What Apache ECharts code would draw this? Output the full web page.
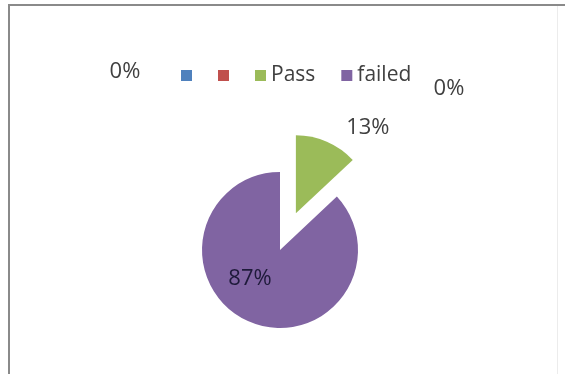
<!DOCTYPE html>
<html>
<head>
<meta charset="utf-8">
<script src="https://cdn.jsdelivr.net/npm/echarts@6/dist/echarts.min.js"></script>
<style>
  html, body { margin: 0; padding: 0; background: #ffffff; }
  #chart { width: 565px; height: 374px; }
</style>
</head>
<body>
<div id="chart"></div>
<script>
// Result categories and their shares (percent)
var categories = ['s1', 's2', 'Pass', 'failed'];
var legendText = ['', '', 'Pass', 'failed'];
var shares = [0, 0, 13, 87];
var sliceColors = ['#4F81BD', '#C0504D', '#9BBB59', '#8064A2'];

// Where each percentage label sits
var labelSpots = [[125, 72], [449, 89], [351, 119], [250, 279]];

var chart = echarts.init(document.getElementById('chart'), null, { renderer: 'canvas' });

var pieData = categories.map(function (name, i) {
  var item = {
    name: name,
    value: shares[i],
    selected: name === 'Pass',
    itemStyle: { color: sliceColors[i] }
  };
  if (name === 'failed') {
    item.label = { color: '#1e1a3a' };
  }
  return item;
});

var font = '"Open Sans", "Liberation Sans", sans-serif';

chart.setOption({
  animation: false,
  backgroundColor: '#ffffff',
  legend: {
    left: 176,
    top: 60,
    itemWidth: 11,
    itemHeight: 11,
    itemGap: 26,
    icon: 'rect',
    selectedMode: false,
    data: categories,
    formatter: function (name) {
      return legendText[categories.indexOf(name)];
    },
    textStyle: { fontFamily: font, fontSize: 21, color: '#404040' }
  },
  graphic: [
    { type: 'line', shape: { x1: 8, y1: 5, x2: 565, y2: 5 }, style: { stroke: '#8a8a8a', lineWidth: 2 } },
    { type: 'line', shape: { x1: 9, y1: 5, x2: 9, y2: 374 }, style: { stroke: '#8a8a8a', lineWidth: 2 } },
    { type: 'line', shape: { x1: 557.5, y1: 6, x2: 557.5, y2: 374 }, style: { stroke: '#ececec', lineWidth: 1 } }
  ],
  series: [{
    type: 'pie',
    center: [280, 250],
    radius: 78,
    startAngle: 90,
    clockwise: true,
    selectedMode: 'single',
    selectedOffset: 40,
    avoidLabelOverlap: false,
    emphasis: { disabled: true },
    label: {
      show: true,
      position: 'outside',
      formatter: '{d}%',
      fontFamily: font,
      fontSize: 22,
      color: '#404040'
    },
    labelLine: { show: false },
    labelLayout: function (params) {
      var p = labelSpots[params.dataIndex];
      return { x: p[0], y: p[1], align: 'center', verticalAlign: 'middle' };
    },
    data: pieData
  }]
});
</script>
</body>
</html>
